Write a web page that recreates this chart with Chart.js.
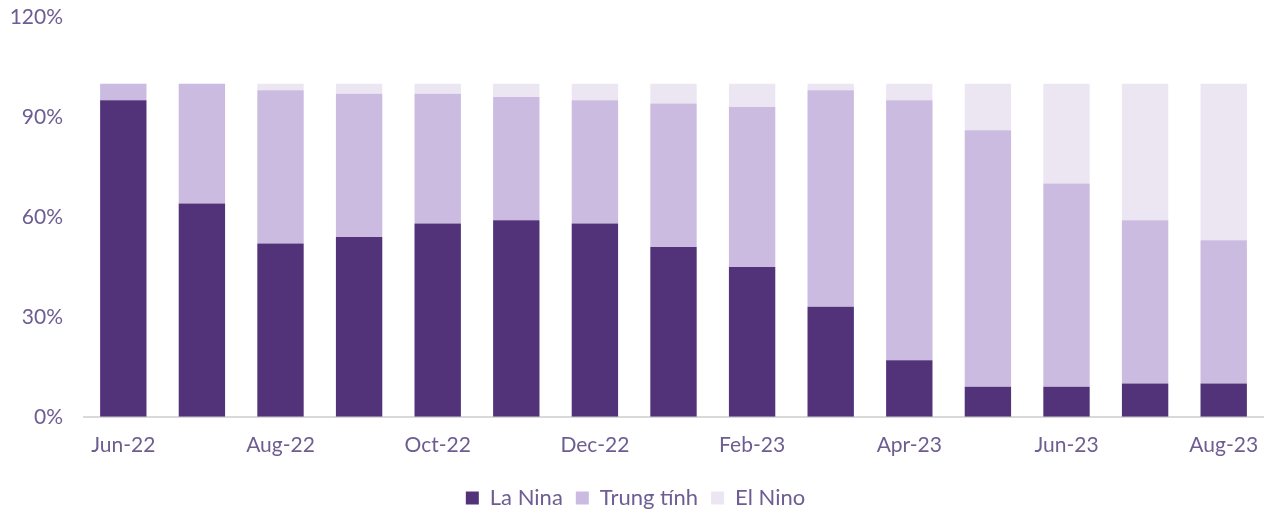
<!DOCTYPE html>
<html>
<head>
<meta charset="utf-8">
<script src="https://cdn.jsdelivr.net/npm/chart.js@4"></script>
<style>
  html, body { margin: 0; padding: 0; background: #fff; }
  #wrap { width: 1272px; height: 509px; position: relative; }
</style>
</head>
<body>
<div id="wrap"><canvas id="enso"></canvas></div>
<script>
const months = ["Jun-22", "Jul-22", "Aug-22", "Sep-22", "Oct-22", "Nov-22", "Dec-22", "Jan-23",
                "Feb-23", "Mar-23", "Apr-23", "May-23", "Jun-23", "Jul-23", "Aug-23"];
const laNina  = [95, 64, 52, 54, 58, 59, 58, 51, 45, 33, 17, 9, 9, 10, 10];
const neutral = [5, 36, 46, 43, 39, 37, 37, 43, 48, 65, 78, 77, 61, 49, 43];
const elNino  = [0, 0, 2, 3, 3, 4, 5, 6, 7, 2, 5, 14, 30, 41, 47];
const yTicks = [0, 30, 60, 90, 120];

const textColor = "#6d5d91";
const font = { family: "Lato, 'Noto Sans', sans-serif", size: 21 };

new Chart(document.getElementById("enso"), {
    type: "bar",
    data: {
        labels: months,
        datasets: [
            { label: "La Nina", data: laNina, backgroundColor: "#523278" },
            { label: "Trung tính", data: neutral, backgroundColor: "#cbbbe1" },
            { label: "El Nino", data: elNino, backgroundColor: "#ece6f3" }
        ]
    },
    options: {
        responsive: true,
        maintainAspectRatio: false,
        animation: false,
        datasets: { bar: { categoryPercentage: 1, barPercentage: 0.59 } },
        layout: { padding: { top: 17, right: 9, left: 8, bottom: -10 } },
        plugins: {
            tooltip: { enabled: false },
            legend: {
                position: "bottom",
                labels: {
                    color: textColor,
                    font: { family: font.family, size: 22 },
                    boxWidth: 13,
                    boxHeight: 13,
                    padding: 13
                }
            }
        },
        scales: {
            x: {
                stacked: true,
                grid: { display: false, drawTicks: false },
                border: { color: "#d9d9d9", width: 2 },
                afterFit: axis => { axis.paddingLeft = 0; axis.paddingRight = 0; },
                ticks: {
                    color: textColor,
                    font: font,
                    padding: 16,
                    autoSkip: false,
                    maxRotation: 0,
                    callback: (v, i) => (i % 2 === 0 ? months[i] : "")
                }
            },
            y: {
                stacked: true,
                min: 0,
                max: 120,
                afterBuildTicks: axis => { axis.ticks = yTicks.map(v => ({ value: v })); },
                afterFit: axis => { axis.paddingTop = 0; axis.paddingBottom = 0; axis.width = 76; },
                grid: { display: false, drawTicks: false },
                border: { display: false },
                ticks: {
                    color: textColor,
                    font: font,
                    padding: 21,
                    callback: v => v + "%"
                }
            }
        }
    }
});
</script>
</body>
</html>
